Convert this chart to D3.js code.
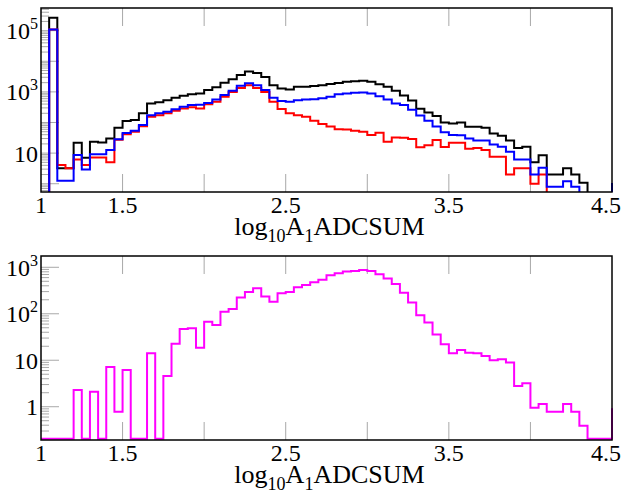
<!DOCTYPE html>
<html><head><meta charset="utf-8">
<script src="https://cdn.jsdelivr.net/npm/d3@7"></script>
<style>body{margin:0;background:#fff}svg{display:block}</style>
</head><body>
<script>
// Histogram bins: 70 bins of width 0.05 starting at 1.0; the 71st value is the end point at x = 4.5
const binStart = 1.0, binWidth = 0.05;
const xTickValues = [1, 1.5, 2, 2.5, 3, 3.5, 4, 4.5];
const xTickLabels = ["1", "1.5", "", "2.5", "", "3.5", "", "4.5"];
const xTitle = ["log", "10", "A", "1", "ADCSUM"]; // normal, sub, normal, sub, normal
const topYTicks = [10, 1e3, 1e5];
const topYLabels = [["10", ""], ["10", "3"], ["10", "5"]];
const bottomYTicks = [1, 10, 100, 1000];
const bottomYLabels = [["1", ""], ["10", ""], ["10", "2"], ["10", "3"]];

const blackValues = [0, 263000, 3.2, 3.2, 21.9, 7.1, 23.4, 22.4, 30.2, 67.6,
  112, 120, 200, 417, 457, 537, 646, 741, 832, 891,
  1148, 1413, 1995, 2570, 3548, 4677, 4169, 3090, 1660, 1288,
  1202, 1479, 1479, 1549, 1660, 1820, 1950, 2138, 2239, 2291,
  2138, 1778, 1479, 1096, 759, 525, 282, 214, 162, 100,
  93, 100, 72, 72, 68, 44, 37, 26, 14.8, 16.2,
  5.0, 8.5, 2.0, 2.0, 3.2, 2.0, 1.07, 0, 0, 0, 0];
const redValues = [0, 110000, 4.1, 3.2, 6.2, 4.1, 7.2, 7.2, 5.0, 27.5,
  41.7, 50, 76, 155, 174, 200, 240, 288, 316, 288,
  398, 479, 692, 1000, 1349, 1660, 1349, 1000, 479, 275,
  200, 174, 155, 115, 89, 74, 60, 59, 54, 50,
  39, 46, 23.4, 32.4, 31.6, 28.8, 15.5, 18.2, 26.9, 15.8,
  21.9, 21.9, 13.8, 14.8, 12.6, 7.6, 7.6, 2.0, 3.2, 3.2,
  1.0, 2.0, 0, 0, 0, 0, 0, 0, 0, 0, 0];
const blueValues = [0, 110000, 1.24, 1.24, 8.7, 2.9, 9.1, 9.1, 12.6, 28.2,
  45.7, 53.7, 83, 174, 200, 224, 269, 324, 372, 380,
  437, 562, 794, 1096, 1585, 1905, 1660, 1148, 646, 501,
  479, 537, 562, 575, 617, 692, 832, 891, 933, 955,
  891, 724, 562, 417, 372, 263, 170, 115, 74, 48,
  39, 38, 30, 26, 26, 19, 16.2, 11, 6.2, 6.2,
  2.0, 3.3, 0.8, 0.8, 1.2, 0.8, 0, 0, 0, 0, 1.05];
const magentaValues = [0, 0, 0, 0, 2.3, 0, 2.1, 0, 7.2, 0.78,
  6.2, 0, 0, 14.1, 0, 4.6, 22.6, 46.8, 49, 18.6,
  67.6, 57.5, 110, 126, 224, 295, 355, 234, 182, 275,
  295, 372, 417, 479, 537, 676, 741, 813, 832, 871,
  832, 708, 575, 437, 282, 174, 93, 65, 36, 22,
  14.1, 16.6, 14.5, 14.1, 12.3, 10, 10.5, 8.9, 2.8, 3.2,
  0.95, 1.15, 0.78, 0.78, 1.15, 0.78, 0.39, 0, 0, 0, 0.93];

const W = 624, H = 491;
const FONT = "'Liberation Serif', 'Times New Roman', serif";
const svg = d3.select("body").append("svg").attr("width", W).attr("height", H);

function panel(id, top, bottom, yDomain, series, yTicks, yLabels, zeroY) {
  const left = 41, right = 612;
  const x = d3.scaleLinear([1, 4.5], [left, right]);
  const y = d3.scaleLog(yDomain, [bottom, top]);
  const g = svg.append("g");
  g.append("clipPath").attr("id", id).append("rect")
    .attr("x", left - 1).attr("y", top).attr("width", right - left + 2).attr("height", bottom - top);

  const k0 = Math.floor(Math.log10(yDomain[0])), k1 = Math.ceil(Math.log10(yDomain[1]));
  for (let k = k0; k <= k1; k++) {
    for (let m = 1; m <= 9; m++) {
      const v = m * Math.pow(10, k);
      if (v < yDomain[0] || v > yDomain[1]) continue;
      g.append("line").attr("x1", left).attr("x2", left + (m === 1 ? 18 : 8))
        .attr("y1", y(v)).attr("y2", y(v)).attr("stroke", "#a8a8a8").attr("stroke-width", 1);
    }
  }
  xTickValues.filter(v => v > 1 && v < 4.5).forEach(v => {
    g.append("line").attr("x1", x(v)).attr("x2", x(v)).attr("y1", top).attr("y2", top + 18)
      .attr("stroke", "#a8a8a8").attr("stroke-width", 1);
    g.append("line").attr("x1", x(v)).attr("x2", x(v)).attr("y1", bottom - 18).attr("y2", bottom)
      .attr("stroke", "#a8a8a8").attr("stroke-width", 1);
  });

  const line = d3.line()
    .x((d, i) => x(binStart + i * binWidth))
    .y(d => d > 0 ? y(d) : bottom + zeroY)
    .curve(d3.curveStepAfter);
  const pg = g.append("g").attr("clip-path", `url(#${id})`);
  series.forEach(s => {
    pg.append("path").attr("d", line(s.values)).attr("fill", "none")
      .attr("stroke", s.color).attr("stroke-width", 2).attr("stroke-linejoin", "miter");
  });

  g.append("rect").attr("x", left).attr("y", top).attr("width", right - left).attr("height", bottom - top)
    .attr("fill", "none").attr("stroke", "#000").attr("stroke-width", 1.5);

  xTickValues.forEach((v, i) => {
    if (!xTickLabels[i]) return;
    const last = i === xTickValues.length - 1;
    g.append("text").attr("x", last ? 621 : x(v)).attr("y", bottom + 21)
      .attr("text-anchor", last ? "end" : "middle")
      .attr("font-family", FONT).attr("font-size", 24).text(xTickLabels[i]);
  });
  const t = g.append("text").attr("x", (left + right) / 2 + 3).attr("y", bottom + 43)
    .attr("text-anchor", "middle").attr("font-family", FONT).attr("font-size", 26);
  t.append("tspan").text(xTitle[0]);
  t.append("tspan").attr("font-size", 18).attr("dy", 6.5).text(xTitle[1]);
  t.append("tspan").attr("dy", -6.5).text(xTitle[2]);
  t.append("tspan").attr("font-size", 18).attr("dy", 6.5).text(xTitle[3]);
  t.append("tspan").attr("dy", -6.5).text(xTitle[4]);

  yTicks.forEach((v, i) => {
    const [base, sup] = yLabels[i];
    const tt = g.append("text").attr("x", 38).attr("y", y(v) + 8.5).attr("text-anchor", "end")
      .attr("font-family", FONT).attr("font-size", 24);
    tt.append("tspan").text(base);
    if (sup) tt.append("tspan").attr("font-size", 16).attr("dy", -10).text(sup);
  });
}

panel("clipTop", 8, 192, [Math.pow(10, -0.27), Math.pow(10, 5.74)],
  [{values: blackValues, color: "#000000"}, {values: redValues, color: "#ff0000"}, {values: blueValues, color: "#0000ff"}],
  topYTicks, topYLabels, 1);
panel("clipBottom", 256, 440, [Math.pow(10, -0.716), Math.pow(10, 3.243)],
  [{values: magentaValues, color: "#ff00ff"}],
  bottomYTicks, bottomYLabels, -1.2);
</script>
</body></html>
